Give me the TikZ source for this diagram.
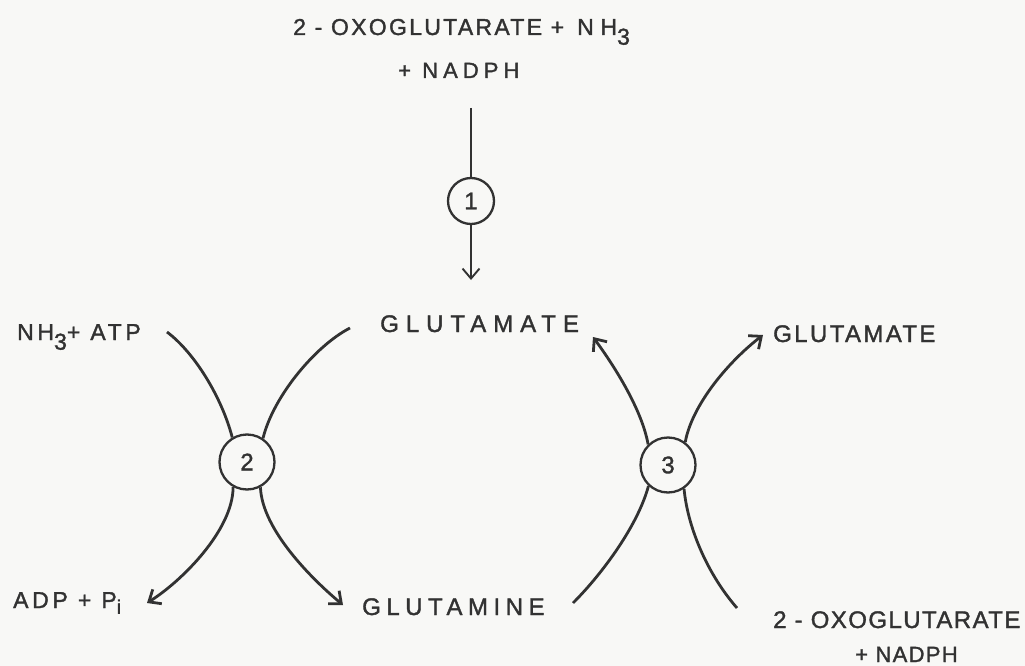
\documentclass[tikz,border=0pt]{standalone}
\usepackage{fontspec}
\setmainfont{Liberation Sans}[FakeBold=1.5]
\newfontfamily\trackW[LetterSpace=29,FakeBold=1.5]{Liberation Sans}
\newfontfamily\trackM[LetterSpace=23,FakeBold=1.5]{Liberation Sans}
\newfontfamily\trackS[LetterSpace=10,FakeBold=1.5]{Liberation Sans}
\newfontfamily\trackL[LetterSpace=16,FakeBold=1.5]{Liberation Sans}
\newfontfamily\trackT[LetterSpace=6,FakeBold=1.5]{Liberation Sans}
\usetikzlibrary{arrows.meta}
\newcommand\lowsub[1]{\raisebox{-0.42em}{#1}}
\definecolor{ink}{RGB}{50,50,50}
\definecolor{paper}{RGB}{248,248,246}
\begin{document}
\begin{tikzpicture}[x=1pt,y=-1pt,
  lbl/.style={inner sep=0pt, anchor=base west, text=ink},
  enz/.style={circle, draw=ink, line width=2.3pt, inner sep=0pt, text=ink,
              font=\trackT\fontsize{24}{28}\selectfont},
  flow/.style={draw=ink, line width=2.8pt},
  barb/.style={-{Straight Barb[length=10pt,width=17pt]}}]
\fill[paper] (0,0) rectangle (1025,666);
\useasboundingbox (0,0) rectangle (1025,666);

% substrate and product labels
\node[lbl, font=\trackS\fontsize{23}{27}\selectfont] (oxoA) at (293,35)
  {2 - OXOGLUTARATE {\trackW+ NH\lowsub{3}}};
\node[lbl, font=\trackM\fontsize{22}{26}\selectfont] (nadA) at (398,78) {+ NADPH};
\node[lbl, font=\trackW\fontsize{24}{28}\selectfont] (gluA) at (380,332) {GLUTAMATE};
\node[lbl, font=\trackL\fontsize{23}{27}\selectfont] (nh3) at (17,340) {NH\lowsub{3}+ ATP};
\node[lbl, font=\trackL\fontsize{23}{27}\selectfont] (adp) at (13,608) {ADP + P\raisebox{-0.25em}{\scalebox{0.85}{i}}};
\node[lbl, font=\trackM\fontsize{24}{28}\selectfont] (gln) at (362,615) {GLUTAMINE};
\node[lbl, font=\trackS\fontsize{24}{28}\selectfont] (gluB) at (773,342) {GLUTAMATE};
\node[lbl, font=\trackT\fontsize{24}{28}\selectfont] (oxoB) at (773,628) {2 - OXOGLUTARATE};
\node[lbl, font=\trackT\fontsize{22}{26}\selectfont] (nadB) at (855,662) {+ NADPH};

% enzyme circles
\node[enz, minimum size=46pt] (e1) at (471,201) {1};
\node[enz, minimum size=55pt] (e2) at (247,462) {2};
\node[enz, minimum size=55pt] (e3) at (668,465) {3};

% free ends of the connectors
\coordinate (topA)   at (471,108);
\coordinate (tipA)   at (471,280);
\coordinate (nh3E)   at (167,332);
\coordinate (gluAE)  at (350,328);
\coordinate (adpT)   at (147,603);
\coordinate (glnT)   at (343,605);
\coordinate (glnE)   at (573,603);
\coordinate (oxoBE)  at (737,608);
\coordinate (gluAT)  at (593,337);
\coordinate (gluBT)  at (763,335);

% reaction 1
\draw[draw=ink, line width=1.9pt] (topA) -- (e1.north);
\draw[draw=ink, line width=1.9pt, -{Straight Barb[length=10pt,width=17pt]}] (e1.south) -- (tipA);

% reaction 2
\draw[flow] (nh3E) .. controls (195,353) and (222,398) .. (e2.121);
\draw[flow] (gluAE) .. controls (315,346) and (273,397) .. (e2.56);
\draw[flow, barb] (e2.241) .. controls (233,530) and (182,581) .. (adpT);
\draw[flow, barb] (e2.298) .. controls (262,530) and (313,580) .. (glnT);

% reaction 3
\draw[flow] (glnE) .. controls (603,573) and (638,525) .. (e3.227);
\draw[flow] (e3.304) .. controls (688,530) and (709,576) .. (oxoBE);
\draw[flow, barb] (e3.134) .. controls (642,410) and (615,367) .. (gluAT);
\draw[flow, barb] (e3.53) .. controls (692,405) and (728,362) .. (gluBT);
\end{tikzpicture}
\end{document}
